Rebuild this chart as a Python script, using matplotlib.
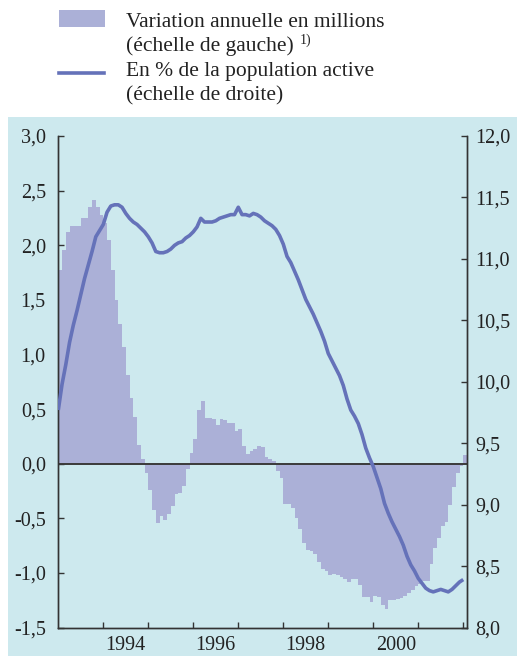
import matplotlib
matplotlib.use('Agg')
import matplotlib.pyplot as plt
from matplotlib.patches import Rectangle
from matplotlib.lines import Line2D
from matplotlib.ticker import FixedLocator, FixedFormatter, NullFormatter

# ---------------- data ----------------
start_year = 1993
# annual variation in millions (left scale), monthly Jan 1993 .. Jan 2002
bar_values = [
    1.77, 1.96, 2.12, 2.18, 2.18, 2.18, 2.25, 2.25, 2.35, 2.41, 2.35, 2.28,
    2.20, 2.05, 1.77, 1.50, 1.28, 1.07, 0.81, 0.60, 0.43, 0.17, 0.04, -0.09,
    -0.24, -0.42, -0.54, -0.48, -0.52, -0.46, -0.39, -0.28, -0.27, -0.20, -0.05, 0.10,
    0.23, 0.49, 0.57, 0.42, 0.42, 0.41, 0.35, 0.41, 0.40, 0.37, 0.37, 0.30,
    0.32, 0.16, 0.09, 0.12, 0.13, 0.16, 0.15, 0.06, 0.04, 0.02, -0.07, -0.13,
    -0.37, -0.37, -0.41, -0.50, -0.60, -0.73, -0.79, -0.80, -0.83, -0.90, -0.96, -0.98,
    -1.02, -1.01, -1.02, -1.04, -1.06, -1.08, -1.06, -1.06, -1.11, -1.22, -1.22, -1.27,
    -1.21, -1.22, -1.29, -1.33, -1.25, -1.25, -1.24, -1.23, -1.21, -1.18, -1.16, -1.12,
    -1.10, -1.07, -1.07, -0.92, -0.77, -0.68, -0.57, -0.53, -0.38, -0.21, -0.09, -0.02,
    0.08,
]
# unemployment in % of labour force (right scale)
line_values = [
    9.77, 9.98, 10.14, 10.32, 10.46, 10.58, 10.71, 10.84, 10.95, 11.06, 11.18, 11.23,
    11.28, 11.38, 11.43, 11.44, 11.44, 11.42, 11.37, 11.33, 11.30, 11.28, 11.25, 11.22,
    11.18, 11.13, 11.06, 11.05, 11.05, 11.06, 11.08, 11.11, 11.13, 11.14, 11.17, 11.19,
    11.22, 11.26, 11.33, 11.30, 11.30, 11.30, 11.31, 11.33, 11.34, 11.35, 11.36, 11.36,
    11.42, 11.36, 11.36, 11.35, 11.37, 11.36, 11.34, 11.31, 11.29, 11.27, 11.24, 11.19,
    11.12, 11.02, 10.97, 10.90, 10.83, 10.75, 10.67, 10.61, 10.55, 10.48, 10.41, 10.33,
    10.23, 10.17, 10.11, 10.05, 9.97, 9.86, 9.77, 9.72, 9.66, 9.57, 9.46, 9.38,
    9.31, 9.22, 9.13, 9.01, 8.93, 8.86, 8.80, 8.74, 8.67, 8.58, 8.51, 8.46,
    8.40, 8.36, 8.32, 8.30, 8.29, 8.30, 8.31, 8.30, 8.29, 8.31, 8.34, 8.37,
    8.39,
]
left_ticks = [-1.5, -1.0, -0.5, 0.0, 0.5, 1.0, 1.5, 2.0, 2.5, 3.0]
right_ticks = [8.0, 8.5, 9.0, 9.5, 10.0, 10.5, 11.0, 11.5, 12.0]
year_ticks = [1994, 1995, 1996, 1997, 1998, 1999, 2000, 2001, 2002]
year_labels = ['1994', '1996', '1998', '2000']
legend_bar_text = ['Variation annuelle en millions', '(échelle de gauche)']
legend_bar_note = '1)'
legend_line_text = ['En % de la population active', '(échelle de droite)']

# ---------------- style ----------------
BG = '#cde9ee'
BAR = '#abb0d7'
LINE = '#6572b9'
DARK = '#333333'
TXT = '#222222'
FS = 14.5
LFS = 15.5

plt.rcParams['font.family'] = ['Liberation Serif', 'DejaVu Serif']

W, H = 517, 656
fig = plt.figure(figsize=(W / 100, H / 100), dpi=100)
fig.patch.set_facecolor('white')

def fx(px):
    return px / W

def fy(py):
    return 1 - py / H

# cyan panel
fig.add_artist(Rectangle((fx(8), 0), fx(W - 8), 1 - (117 / H), transform=fig.transFigure,
                         facecolor=BG, edgecolor='none', zorder=-5))

L, R, T, B = 58.3, 467.0, 136.0, 627.5
ax = fig.add_axes([fx(L), fy(B), fx(R - L), (B - T) / H])
ax.set_facecolor(BG)

n = len(bar_values)
xs = [start_year + i / 12 for i in range(n)]
ax.bar(xs, bar_values, width=1 / 12, align='edge', color=BAR, linewidth=0, zorder=2)
ax.axhline(0, color='#3a3a3a', linewidth=1.4, zorder=3)

ax.set_xlim(start_year, 2002 + 1 / 12)
ax.set_ylim(left_ticks[0], left_ticks[-1])

ax2 = ax.twinx()
ax2.plot([start_year + i / 12 for i in range(len(line_values))], line_values,
         color=LINE, linewidth=2.6, solid_joinstyle='round', solid_capstyle='butt', zorder=4)
ax2.set_ylim(right_ticks[0], right_ticks[-1])

for a in (ax, ax2):
    a.spines['top'].set_visible(False)
    for s in ('left', 'right', 'bottom'):
        a.spines[s].set_color(DARK)
        a.spines[s].set_linewidth(1.0)

ax.set_yticks(left_ticks)
ax.set_yticklabels([f'{v:.1f}'.replace('.', ',') for v in left_ticks])
ax.tick_params(axis='y', direction='in', length=4, width=1, colors=DARK,
               labelsize=FS, pad=9, labelcolor=TXT)

ax2.set_yticks(right_ticks)
ax2.set_yticklabels([f'{v:.1f}'.replace('.', ',') for v in right_ticks])
ax2.tick_params(axis='y', direction='in', length=4, width=1, colors=DARK,
                labelsize=FS, pad=6, labelcolor=TXT)

ax.xaxis.set_major_locator(FixedLocator(year_ticks))
ax.xaxis.set_major_formatter(NullFormatter())
ax.xaxis.set_minor_locator(FixedLocator([int(y) + 0.5 for y in year_labels]))
ax.xaxis.set_minor_formatter(FixedFormatter(year_labels))
ax.tick_params(axis='x', which='major', direction='in', length=4, width=1, colors=DARK)
ax.tick_params(axis='x', which='minor', length=0, labelsize=FS, pad=6, labelcolor=TXT)

# ---------------- legend ----------------
fig.add_artist(Rectangle((fx(59), fy(27)), fx(46), 17 / H, transform=fig.transFigure,
                         facecolor=BAR, edgecolor='none'))
fig.add_artist(Line2D([fx(59), fx(104)], [fy(73), fy(73)], transform=fig.transFigure,
                      color=LINE, linewidth=2.6))
tx = fx(126)
fig.text(tx, fy(27), legend_bar_text[0], fontsize=LFS, va='baseline', ha='left', color=TXT)
t2 = fig.text(tx, fy(51), legend_bar_text[1], fontsize=LFS, va='baseline', ha='left', color=TXT)
fig.text(tx, fy(76), legend_line_text[0], fontsize=LFS, va='baseline', ha='left', color=TXT)
fig.text(tx, fy(100), legend_line_text[1], fontsize=LFS, va='baseline', ha='left', color=TXT)

renderer = fig.canvas.get_renderer()
ext = t2.get_window_extent(renderer=renderer)
fig.text((ext.x1 + 6) / W, fy(44), legend_bar_note, fontsize=10, va='baseline', ha='left',
         color=TXT)

fig.savefig('out.png', dpi=100, facecolor='white')
